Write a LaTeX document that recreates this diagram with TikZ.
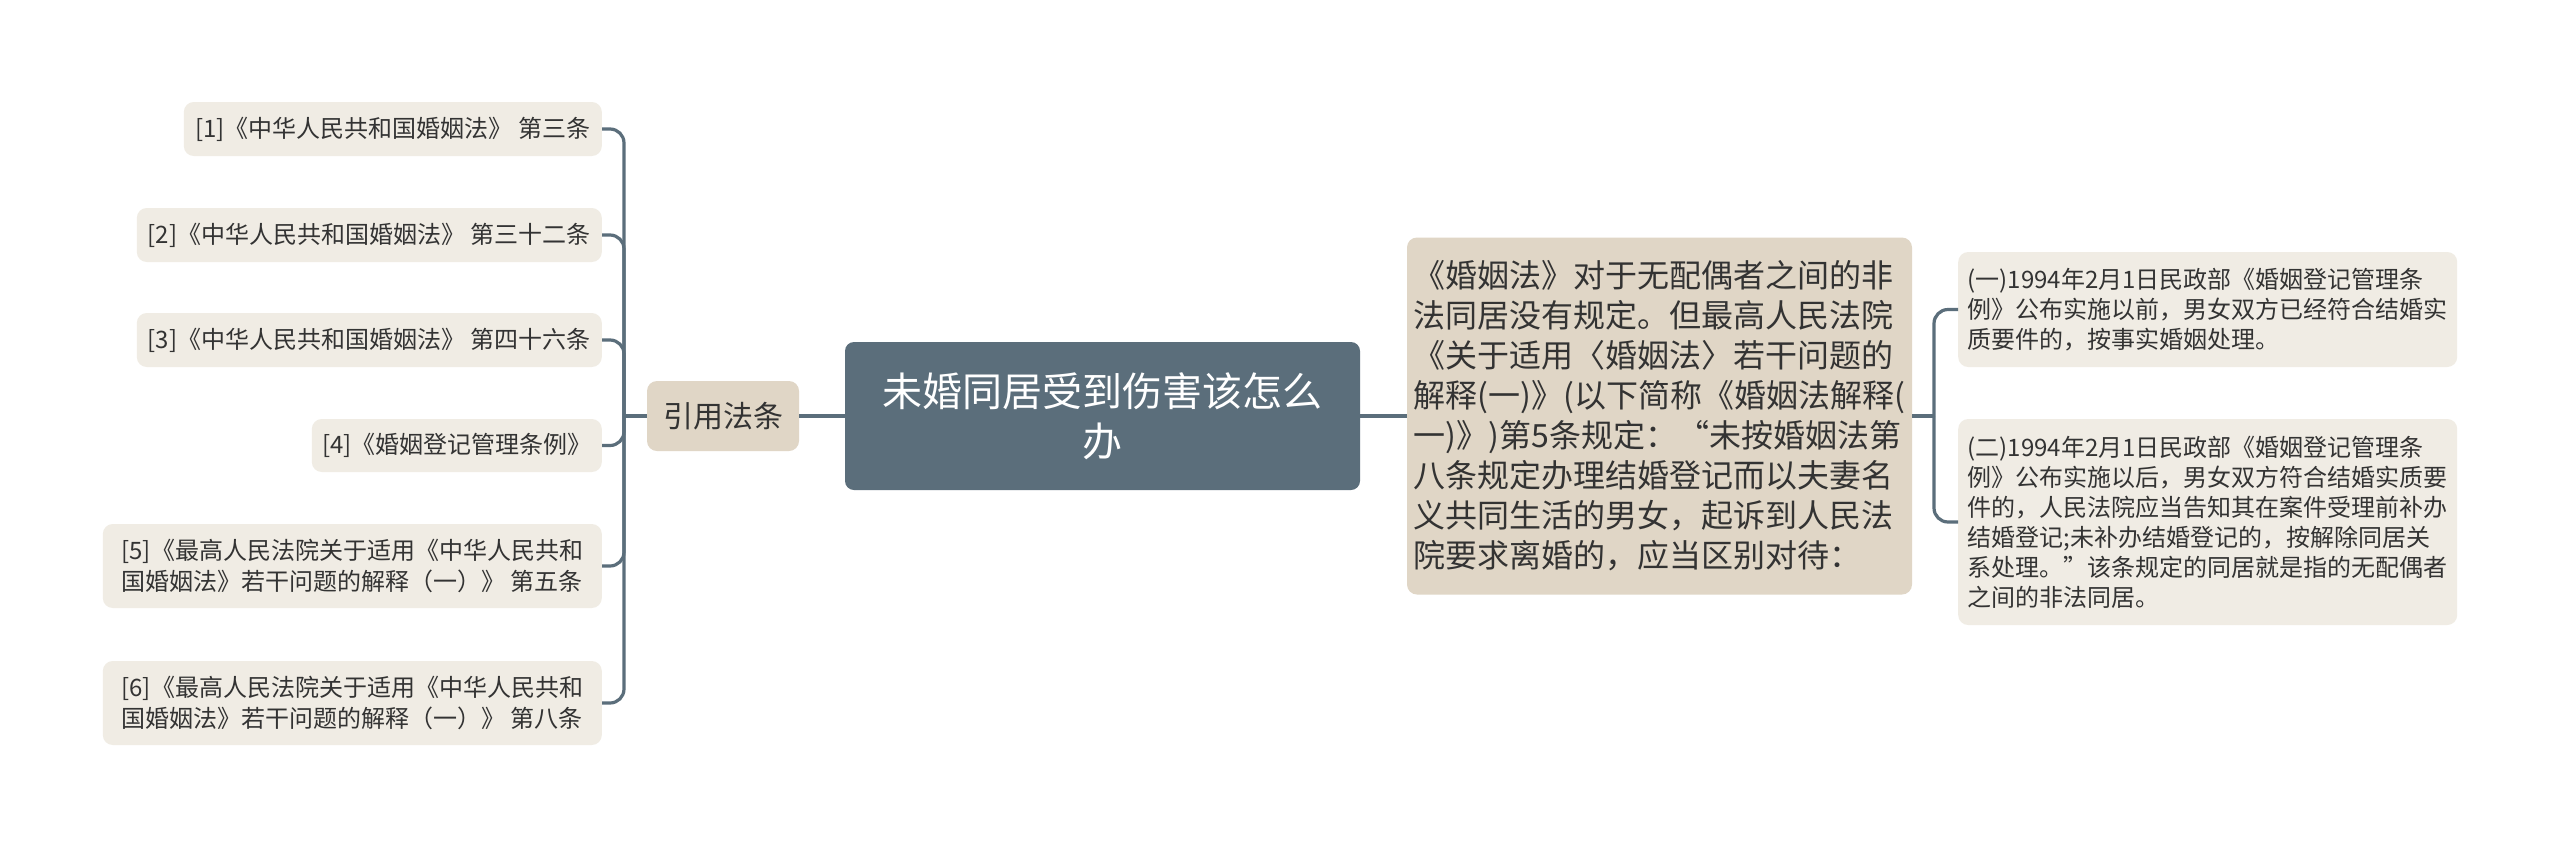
\documentclass[tikz,border=0pt]{standalone}
\usepackage{fontspec}
\setmainfont{Noto Sans CJK SC}
\definecolor{rootfill}{HTML}{5B6E7B}
\definecolor{linkcol}{HTML}{5B6E7B}
\definecolor{midfill}{HTML}{E0D6C6}
\definecolor{leaffill}{HTML}{F0ECE4}
\definecolor{txt}{HTML}{333333}
\tikzset{
  rootbox/.style={fill=rootfill, text=white, rounded corners=9pt, inner sep=0pt, align=center,
    font=\fontsize{40}{50}\selectfont},
  midbox/.style={fill=midfill, text=txt, rounded corners=10pt, inner sep=0pt, align=left,
    font=\fontsize{32}{40}\selectfont},
  catbox/.style={fill=midfill, text=txt, rounded corners=10pt, inner sep=0pt, align=center,
    font=\fontsize{30}{38}\selectfont},
  leafbox/.style={fill=leaffill, text=txt, rounded corners=10pt, inner sep=0pt, align=left,
    font=\fontsize{24}{31}\selectfont},
  rleafbox/.style={fill=leaffill, text=txt, rounded corners=10pt, inner sep=0pt, align=left,
    font=\fontsize{24}{30}\selectfont},
  link/.style={draw=linkcol, line width=3.2pt},
  branch/.style={draw=linkcol, line width=3.2pt, rounded corners=14pt}
}
\begin{document}
\begin{tikzpicture}[x=1pt,y=-1pt]
\useasboundingbox[fill=white] (0,0) rectangle (2560,847);
% root
\node[rootbox, minimum width=515pt, minimum height=148pt] (root) at (1102.5,416)
  {未婚同居受到伤害该怎么\\办};
% category
\node[catbox, minimum width=152pt, minimum height=70pt] (yy) at (723,416) {引用法条};
% middle
\node[midbox, minimum width=505pt, minimum height=357pt] (mid) at (1659.5,416)
  {《婚姻法》对于无配偶者之间的非\\
   法同居没有规定。但最高人民法院\\
   《关于适用〈婚姻法〉若干问题的\\
   解释(一)》(以下简称《婚姻法解释(\\
   一)》)第5条规定：“未按婚姻法第\\
   八条规定办理结婚登记而以夫妻名\\
   义共同生活的男女，起诉到人民法\\
   院要求离婚的，应当区别对待：};
% left leaves
\node[leafbox, minimum width=418pt, minimum height=54pt, anchor=east] (l1) at (602,129)
  {[1]《中华人民共和国婚姻法》 第三条};
\node[leafbox, minimum width=465pt, minimum height=54pt, anchor=east] (l2) at (602,235)
  {[2]《中华人民共和国婚姻法》 第三十二条};
\node[leafbox, minimum width=465pt, minimum height=54pt, anchor=east] (l3) at (602,340)
  {[3]《中华人民共和国婚姻法》 第四十六条};
\node[leafbox, minimum width=290pt, minimum height=53pt, anchor=east] (l4) at (602,445.5)
  {[4]《婚姻登记管理条例》};
\node[leafbox, minimum width=499pt, minimum height=84pt, anchor=east] (l5) at (602,566)
  {[5]《最高人民法院关于适用《中华人民共和\\国婚姻法》若干问题的解释（一）》 第五条};
\node[leafbox, minimum width=499pt, minimum height=84pt, anchor=east] (l6) at (602,703)
  {[6]《最高人民法院关于适用《中华人民共和\\国婚姻法》若干问题的解释（一）》 第八条};
% right leaves
\node[rleafbox, minimum width=499pt, minimum height=115pt, anchor=west] (r1) at (1958,309.5)
  {(一)1994年2月1日民政部《婚姻登记管理条\\
   例》公布实施以前，男女双方已经符合结婚实\\
   质要件的，按事实婚姻处理。};
\node[rleafbox, minimum width=499pt, minimum height=206pt, anchor=west] (r2) at (1958,522)
  {(二)1994年2月1日民政部《婚姻登记管理条\\
   例》公布实施以后，男女双方符合结婚实质要\\
   件的，人民法院应当告知其在案件受理前补办\\
   结婚登记;未补办结婚登记的，按解除同居关\\
   系处理。”该条规定的同居就是指的无配偶者\\
   之间的非法同居。};
% connectors
\coordinate (jl) at (624,416);
\coordinate (jr) at (1934,416);
\draw[link] (root.west) -- (yy.east);
\draw[link] (root.east) -- (mid.west);
\draw[link] (yy.west) -- (jl);
\draw[link] (mid.east) -- (jr);
\foreach \c in {l1,l2,l3,l4,l5,l6} {\draw[branch] (jl) |- (\c.east);}
\foreach \c in {r1,r2} {\draw[branch] (jr) |- (\c.west);}
\end{tikzpicture}
\end{document}
